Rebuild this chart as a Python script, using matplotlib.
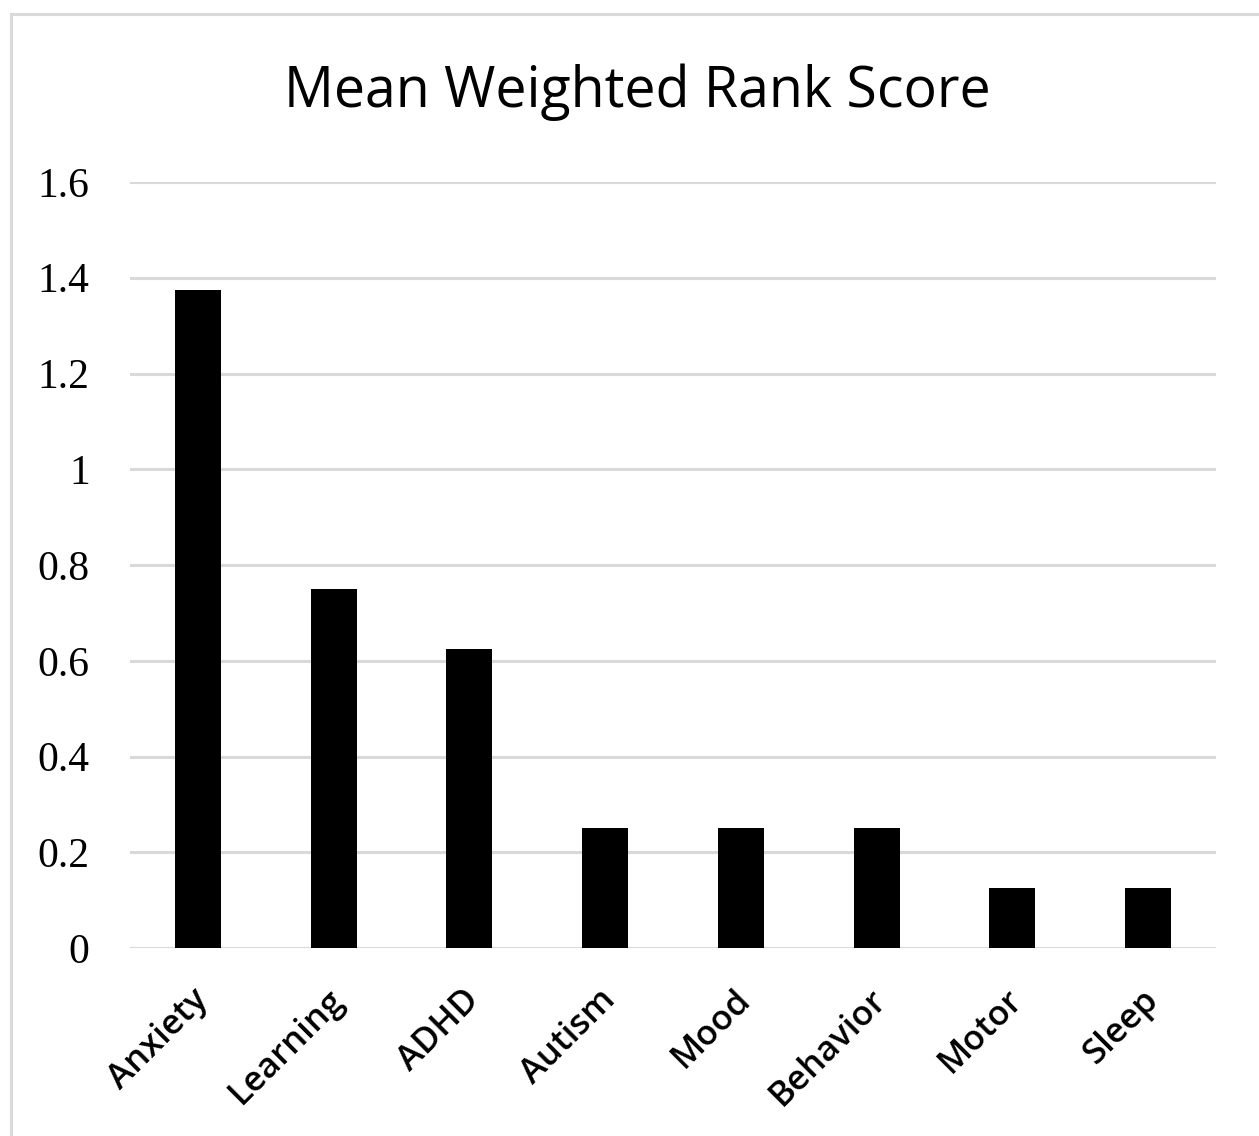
import matplotlib.pyplot as plt
from matplotlib.patches import Rectangle
from matplotlib.transforms import ScaledTranslation

categories = ['Anxiety', 'Learning', 'ADHD', 'Autism', 'Mood', 'Behavior', 'Motor', 'Sleep']
scores = [1.375, 0.75, 0.625, 0.25, 0.25, 0.25, 0.125, 0.125]
yticks = [0, 0.2, 0.4, 0.6, 0.8, 1.0, 1.2, 1.4, 1.6]
ytick_labels = ['0', '0.2', '0.4', '0.6', '0.8', '1', '1.2', '1.4', '1.6']

fig = plt.figure(figsize=(12.59, 11.36), dpi=100)
ax = fig.add_axes([130/1259, 1 - 948/1136, 1086/1259, (948 - 182)/1136])

# chart border (light gray frame)
fig.patches.append(Rectangle((11/1259, -0.05), 1.1, 1 - 14/1136 + 0.05,
                             transform=fig.transFigure, fill=False,
                             edgecolor='#d9d9d9', linewidth=2.2, zorder=0))

x = range(len(categories))
ax.bar(x, scores, width=0.34, color='black', zorder=3)

ax.set_xlim(-0.5, len(categories) - 0.5)
ax.set_ylim(0, 1.6)
ax.set_yticks(yticks)
ax.set_yticklabels(ytick_labels, family='Liberation Serif', fontsize=30)
ax.set_xticks(list(x))
ax.set_xticklabels(categories, rotation=45, ha='right', rotation_mode='anchor',
                   family='Open Sans', fontsize=25, weight='semibold')
ax.tick_params(axis='both', length=0)
ax.tick_params(axis='y', pad=29)
ax.tick_params(axis='x', pad=25)
# nudge x labels a bit to the left
shift = ScaledTranslation(-7/100, 0, fig.dpi_scale_trans)
for lbl in ax.get_xticklabels():
    lbl.set_transform(lbl.get_transform() + shift)

ax.grid(axis='y', color='#d9d9d9', linewidth=2.2, zorder=0)
ax.set_axisbelow(True)
for s in ax.spines.values():
    s.set_visible(False)

fig.text(637/1259, 1 - 92/1136, 'Mean Weighted Rank Score', ha='center', va='center',
         family='Open Sans', fontsize=40)

fig.savefig('out.png', dpi=100)
